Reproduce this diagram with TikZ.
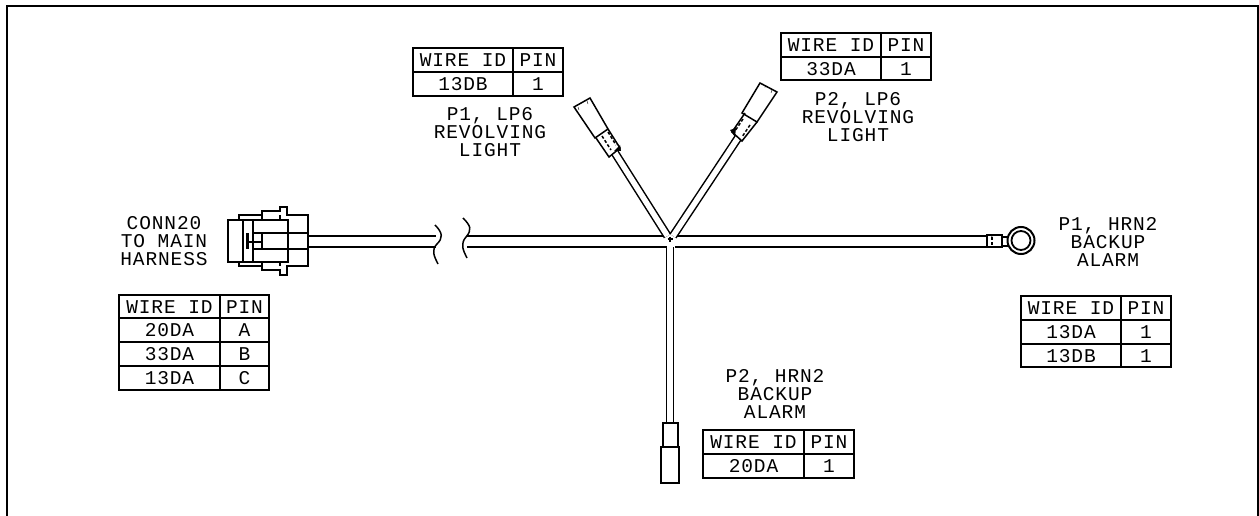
\documentclass[tikz,border=0pt]{standalone}
\usepackage{fontspec}
\setmainfont{Liberation Mono}[LetterSpace=4.5]
\tikzset{
  outline/.style={line width=1.5pt},
  heavy/.style={line width=2.4pt},
  wire/.style={double,double distance=9.5pt,line width=1.6pt},
  thinwire/.style={double,double distance=5.5pt,line width=1.5pt},
  cell/.style={inner sep=0pt,font=\fontsize{19.5}{18}\selectfont},
  label/.style={inner sep=0pt,align=center,font=\fontsize{19.5}{17.7}\selectfont}
}
\begin{document}
\begin{tikzpicture}[x=1pt,y=-1pt]
\useasboundingbox (0,0) rectangle (1259,516);
\draw[line width=2.2pt] (7,516) -- (7,6) -- (1258,6) -- (1258,516);

% junction
\coordinate (hubw) at (667,241.7);
\coordinate (hube) at (675,241.7);
\coordinate (hubs) at (670,247);
\coordinate (hubnw) at (667.5,236);
\coordinate (hubne) at (673,236);
\draw[outline] (667.5,239) -- (672.5,239) (670,236.5) -- (670,241.5);

% wires
\coordinate (connend) at (307,241.7);
\coordinate (breakw) at (436,241.7);
\coordinate (breake) at (467,241.7);
\coordinate (ringend) at (987,241.7);
\coordinate (alarmend) at (670,423);
\coordinate (lpaend) at (615,153);
\coordinate (lpbend) at (738,138);
\draw[wire] (connend) -- (breakw);
\draw[wire] (breake) -- (hubw);
\draw[wire] (hube) -- (ringend);
\draw[thinwire] (hubs) -- (alarmend);
\draw[thinwire] (hubnw) -- (lpaend);
\draw[thinwire] (hubne) -- (lpbend);

% wire break
\draw[outline] (435,225) .. controls (443,233) and (443,238) .. (437,244) .. controls (431,250) and (434,256) .. (438,264);
\draw[outline] (463,218) .. controls (471,226) and (472,230) .. (466,237) .. controls (460,244) and (463,250) .. (467,258);

% CONN20 connector
\draw[outline] (239,220) -- (239,215) -- (262,215) -- (262,211) -- (280,211) -- (280,207) -- (287,207) -- (287,215) -- (308,215) -- (308,266) -- (287,266) -- (287,275) -- (280,275) -- (280,270) -- (262,270) -- (262,266) -- (239,266) -- (239,262);
\draw[outline] (262,215) -- (262,220) (280,215) -- (280,220) (262,262) -- (262,266) (280,262) -- (280,266);
\draw[outline] (253,233) -- (308,233) (253,249) -- (308,249) (262,233) -- (262,249) (249,242) -- (262,242);
\draw[heavy] (228,220) rectangle (288,262);
\draw[heavy] (243,220) -- (243,262);
\draw[outline] (253,220) -- (253,262);
\fill (246,233) rectangle (249,249);

% LP6 connector, left
\draw[outline] (596,138) -- (609,157) -- (620,148) -- (608,129);
\draw[outline] (574,107) -- (590,98) -- (608,129) -- (595,138) -- cycle;
\draw[outline,densely dashed] (602,136) -- (611,150) (608,132) -- (616,145);
\fill (614,151) -- (620,145) -- (621,151) -- cycle;
\draw (578,107) -- (579,110) (587,101) -- (588,104);

% LP6 connector, right
\draw[outline] (745,113) -- (732,132) -- (742,141) -- (757,122);
\draw[outline] (742,113) -- (760,83) -- (777,92) -- (757,122) -- cycle;
\draw[outline,densely dashed] (743,119) -- (735,131) (750,125) -- (742,137);
\fill (730,130) -- (736,128) -- (735,137) -- cycle;
\draw (765,85) -- (765,88) (772,90) -- (771,93);

% HRN2 connector, lower
\draw[outline] (663,447) -- (663,423) -- (678,423) -- (678,447);
\draw[outline] (661,447) rectangle (679,483);

% ring terminal
\draw[outline] (987,235) rectangle (1002,247);
\draw[outline] (1002,237) -- (1009,237) (1002,246) -- (1009,246);
\draw[outline,densely dashed] (992,237) -- (992,245);
\fill (989,234) -- (993,234) -- (992,237) -- cycle;
\draw[line width=2pt,fill=white] (1021,240.5) circle (13.5);
\draw[line width=1.8pt] (1021,240.5) circle (9.5);

% labels
\node[label] (connlabel) at (164,241) {CONN20\\TO MAIN\\HARNESS};
\node[label] (lpalabel) at (490,132) {P1, LP6\\REVOLVING\\LIGHT};
\node[label] (lpblabel) at (858,117) {P2, LP6\\REVOLVING\\LIGHT};
\node[label] (hrnalabel) at (1108,242) {P1, HRN2\\BACKUP\\ALARM};
\node[label] (hrnblabel) at (775,394) {P2, HRN2\\BACKUP\\ALARM};

% table CONN20
\draw[outline] (119,295) rectangle (269,390);
\draw[outline] (220,295) -- (220,390) (119,318) -- (269,318) (119,342) -- (269,342) (119,366) -- (269,366);
\node[cell] (connid) at (169.5,307) {WIRE ID};
\node[cell] (connpin) at (244.5,307) {PIN};
\node[cell] (conna) at (169.5,330) {20DA};
\node[cell] (connb) at (169.5,354) {33DA};
\node[cell] (connc) at (169.5,378) {13DA};
\node[cell] (connpa) at (244.5,330) {A};
\node[cell] (connpb) at (244.5,354) {B};
\node[cell] (connpc) at (244.5,378) {C};

% table P1 LP6
\draw[outline] (413,48) rectangle (563,96);
\draw[outline] (513,48) -- (513,96) (413,72) -- (563,72);
\node[cell] (lpaid) at (463,60) {WIRE ID};
\node[cell] (lpapin) at (538,60) {PIN};
\node[cell] (lpawire) at (463,84) {13DB};
\node[cell] (lpaone) at (538,84) {1};

% table P2 LP6
\draw[outline] (781,33) rectangle (931,80);
\draw[outline] (881,33) -- (881,80) (781,57) -- (931,57);
\node[cell] (lpbid) at (831,45) {WIRE ID};
\node[cell] (lpbpin) at (906,45) {PIN};
\node[cell] (lpbwire) at (831,69) {33DA};
\node[cell] (lpbone) at (906,69) {1};

% table P2 HRN2
\draw[outline] (703,430) rectangle (854,478);
\draw[outline] (804,430) -- (804,478) (703,454) -- (854,454);
\node[cell] (hrnbid) at (753.5,442) {WIRE ID};
\node[cell] (hrnbpin) at (829,442) {PIN};
\node[cell] (hrnbwire) at (753.5,466) {20DA};
\node[cell] (hrnbone) at (829,466) {1};

% table P1 HRN2
\draw[outline] (1021,296) rectangle (1171,367);
\draw[outline] (1121,296) -- (1121,367) (1021,320) -- (1171,320) (1021,344) -- (1171,344);
\node[cell] (hrnaid) at (1071,308) {WIRE ID};
\node[cell] (hrnapin) at (1146,308) {PIN};
\node[cell] (hrnawire) at (1071,332) {13DA};
\node[cell] (hrnaone) at (1146,332) {1};
\node[cell] (hrnawireb) at (1071,356) {13DB};
\node[cell] (hrnaoneb) at (1146,356) {1};
\end{tikzpicture}
\end{document}
